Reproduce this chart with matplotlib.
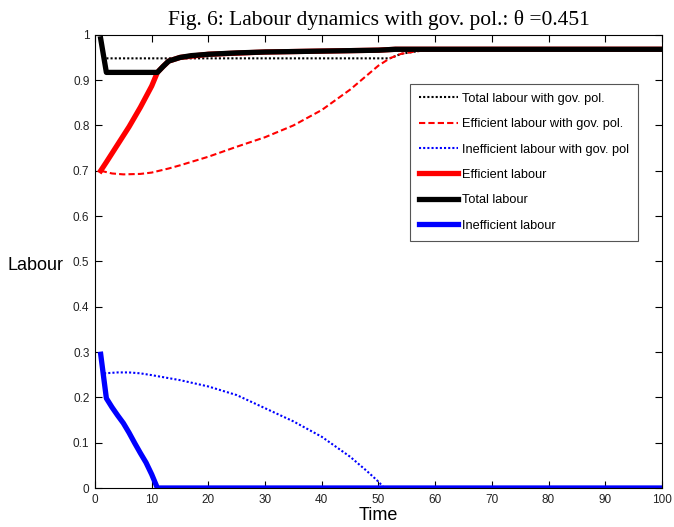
"""
Fig. 6: labour dynamics with and without government policy.
"""

import matplotlib
matplotlib.use("Agg")
import matplotlib.pyplot as plt

# --- values ---
time_total = [1, 2, 11, 12, 13, 15, 17, 20, 25, 30, 35, 40, 45, 50, 53, 60, 100]
total = [0.991, 0.917, 0.917, 0.930, 0.942, 0.950, 0.954, 0.957, 0.960, 0.962,
         0.963, 0.964, 0.965, 0.966, 0.968, 0.968, 0.968]

time_eff = [1, 2, 4, 6, 8, 10, 11, 12, 13, 15, 20, 30, 40, 50, 53, 100]
efficient = [0.700, 0.719, 0.758, 0.797, 0.840, 0.887, 0.917, 0.930, 0.942, 0.950,
             0.957, 0.962, 0.964, 0.966, 0.968, 0.968]

time_ineff = [1, 2, 3, 4, 5, 6, 7, 8, 9, 10, 11, 100]
inefficient = [0.295, 0.198, 0.178, 0.160, 0.143, 0.122, 0.099, 0.077, 0.056,
               0.030, 0.0, 0.0]

time_total_gov = [2, 51, 52, 54, 57, 60, 100]
total_gov = [0.948, 0.948, 0.948, 0.958, 0.964, 0.967, 0.968]

time_eff_gov = [1, 3, 5, 8, 10, 13, 15, 20, 25, 30, 35, 40, 45, 50, 52, 54, 57, 60, 100]
efficient_gov = [0.700, 0.694, 0.692, 0.693, 0.696, 0.705, 0.712, 0.731, 0.753, 0.774,
                 0.800, 0.834, 0.879, 0.932, 0.948, 0.958, 0.964, 0.967, 0.968]

time_ineff_gov = [1.6, 4, 6, 8, 10, 15, 20, 25, 30, 35, 40, 45, 48, 50, 51, 100]
inefficient_gov = [0.253, 0.255, 0.255, 0.253, 0.249, 0.238, 0.224, 0.205, 0.176,
                   0.147, 0.113, 0.069, 0.037, 0.014, 0.0, 0.0]

x_ticks = list(range(0, 101, 10))
y_ticks = [0, 0.1, 0.2, 0.3, 0.4, 0.5, 0.6, 0.7, 0.8, 0.9, 1]
y_tick_labels = ["0", "0.1", "0.2", "0.3", "0.4", "0.5", "0.6", "0.7", "0.8", "0.9", "1"]

plt.rcParams["font.family"] = ["Liberation Sans", "DejaVu Sans"]

fig = plt.figure(figsize=(6.74, 5.27), dpi=100)
ax = fig.add_axes([0.141, 0.074, 0.841, 0.860])

dot = (0, (1, 1))
dash = (0, (3, 1.5))
ax.plot(time_total_gov, total_gov, color="black", linestyle=dot, lw=1.5,
        label="Total labour with gov. pol.")
ax.plot(time_eff_gov, efficient_gov, color="red", linestyle=dash, lw=1.5,
        label="Efficient labour with gov. pol.")
ax.plot(time_ineff_gov, inefficient_gov, color="blue", linestyle=dot, lw=1.5,
        label="Inefficient labour with gov. pol")
ax.plot(time_eff, efficient, color="red", lw=3.8, label="Efficient labour")
ax.plot(time_total, total, color="black", lw=3.8, label="Total labour")
ax.plot(time_ineff, inefficient, color="blue", lw=3.8, label="Inefficient labour")

ax.set_xlim(0, 100)
ax.set_ylim(0, 1)
ax.set_xticks(x_ticks)
ax.set_xticklabels([str(v) for v in x_ticks])
ax.set_yticks(y_ticks)
ax.set_yticklabels(y_tick_labels)
ax.tick_params(direction="in", top=True, right=True, length=5, width=0.8,
               labelsize=8.5, labelcolor="#222222", pad=4)
for side in ax.spines.values():
    side.set_linewidth(0.8)

ax.set_xlabel("Time", fontsize=13, labelpad=1)
ax.set_ylabel("Labour", fontsize=13, rotation=0, ha="right", va="center")
ax.yaxis.set_label_coords(-0.056, 0.49)

ax.set_title("Fig. 6: Labour dynamics with gov. pol.: \u03b8 =0.451",
             family=["Liberation Serif", "DejaVu Serif"], fontsize=15.5, pad=7)

leg = ax.legend(loc="upper right", bbox_to_anchor=(0.958, 0.892), borderaxespad=0,
                fontsize=9.2, fancybox=False, edgecolor="#555555", framealpha=1,
                handlelength=3.0, labelspacing=1.05, borderpad=0.7, handletextpad=0.35)
leg.get_frame().set_linewidth(0.8)

fig.savefig("out.png", dpi=100)
